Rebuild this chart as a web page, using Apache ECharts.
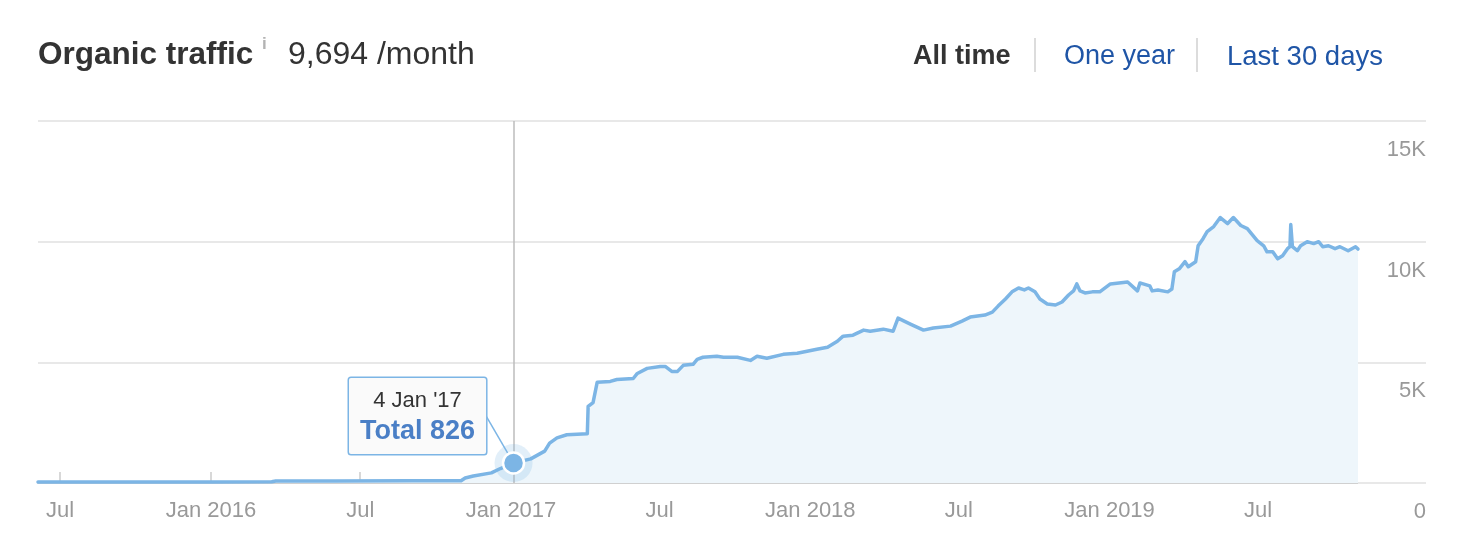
<!DOCTYPE html>
<html>
<head>
<meta charset="utf-8">
<script src="https://cdn.jsdelivr.net/npm/echarts@6/dist/echarts.min.js"></script>
<style>
  html, body { margin: 0; padding: 0; background: #fff; }
  #chart { width: 1462px; height: 542px; }
</style>
</head>
<body>
<div id="chart"></div>
<script>
// ---- data ----
const dates = [
  '2015-06-04','2015-09-01','2016-01-01','2016-03-15','2016-03-20','2016-06-01','2016-09-01','2016-11-01','2016-11-06','2016-11-16','2016-12-08','2016-12-19',
  '2017-01-04','2017-01-25','2017-02-11','2017-02-17','2017-02-26','2017-03-10','2017-04-04','2017-04-05','2017-04-11','2017-04-16',
  '2017-05-02','2017-05-10','2017-05-30','2017-06-04','2017-06-16','2017-07-02','2017-07-08','2017-07-16','2017-07-23','2017-07-30',
  '2017-08-11','2017-08-16','2017-08-23','2017-09-09','2017-09-17','2017-10-04','2017-10-20','2017-10-28','2017-11-09','2017-11-29','2017-12-16',
  '2018-01-09','2018-01-22','2018-02-03','2018-02-10','2018-02-22','2018-03-07','2018-03-15','2018-03-31','2018-04-12','2018-04-18','2018-05-03','2018-05-11','2018-05-19','2018-05-31','2018-06-21',
  '2018-07-05','2018-07-15','2018-08-02','2018-08-11','2018-08-18','2018-08-27','2018-09-04','2018-09-12','2018-09-19','2018-09-24','2018-10-02','2018-10-08','2018-10-17','2018-10-27','2018-11-04','2018-11-12','2018-11-18','2018-11-22','2018-11-26','2018-12-02','2018-12-11','2018-12-20',
  '2019-01-02','2019-01-23','2019-02-04','2019-02-07','2019-02-19','2019-02-22','2019-03-01','2019-03-13','2019-03-18','2019-03-21','2019-03-27','2019-04-03','2019-04-07','2019-04-16','2019-04-19','2019-04-25','2019-04-30','2019-05-08','2019-05-16','2019-05-25',
  '2019-06-01','2019-06-10','2019-06-18','2019-06-30','2019-07-08','2019-07-12','2019-07-19','2019-07-25','2019-07-31','2019-08-06','2019-08-09','2019-08-10','2019-08-12','2019-08-18','2019-08-22','2019-08-30','2019-09-07','2019-09-13','2019-09-18','2019-09-25','2019-10-03','2019-10-09','2019-10-19','2019-10-28','2019-10-31'
];
const traffic = [
  40,40,45,50,80,85,90,95,210,290,420,600,
  826,1000,1320,1650,1870,2000,2040,3170,3330,4170,
  4210,4290,4330,4540,4750,4830,4830,4625,4625,4875,
  4920,5125,5210,5250,5210,5210,5080,5250,5170,5330,5375,
  5540,5625,5875,6085,6125,6335,6290,6375,6290,6830,6585,6460,6335,6420,6500,
  6710,6875,6960,7080,7330,7625,7920,8080,8000,8080,7920,7625,7420,7375,7500,7790,7960,8250,7960,7875,7920,7920,
  8250,8330,7960,8290,8170,7960,8000,7920,8040,8750,8875,9170,8960,9170,9830,10125,10420,10625,11000,10750,
  11000,10670,10540,10040,9830,9580,9580,9290,9420,9710,9790,10710,9790,9625,9830,10000,9920,10000,9790,9830,9710,9790,9625,9790,9694
];
const yTicks = [0, 5000, 10000, 15000];
const yTickLabels = ['0', '5K', '10K', '15K'];
const highlightDate = '2017-01-04';
const highlightValue = 826;
const highlightLabelDate = "4 Jan '17";
const connectorAnchor = ['2016-12-02', 2750];
const headerTitle = 'Organic traffic';
const headerValue = '9,694 /month';
const navItems = ['All time', 'One year', 'Last 30 days'];

// ---- chart ----
const FONT = '"Liberation Sans", Arial, Helvetica, sans-serif';
const LINE = '#7cb5e5';
const GRIDC = '#e8e8e8';
const DAY = 86400000;

const chart = echarts.init(document.getElementById('chart'), null, { renderer: 'canvas' });
const seriesData = dates.map((d, i) => [d, traffic[i]]);

chart.setOption({
  animation: false,
  textStyle: { fontFamily: FONT },
  grid: { left: 38, right: 104, top: 121, bottom: 59, containLabel: false },
  graphic: [
    { type: 'text', left: 38, top: 39, style: { text: headerTitle, font: 'bold 31.5px ' + FONT, fill: '#333' } },
    { type: 'text', left: 262, top: 36, style: { text: 'i', font: 'bold 17px ' + FONT, fill: '#b3b3b3' } },
    { type: 'text', left: 288, top: 39, style: { text: headerValue, font: '32px ' + FONT, fill: '#333' } },
    { type: 'text', left: 913, top: 43, style: { text: navItems[0], font: 'bold 27px ' + FONT, fill: '#333' } },
    { type: 'line', shape: { x1: 1035, y1: 38, x2: 1035, y2: 72 }, style: { stroke: '#dcdcdc', lineWidth: 2 } },
    { type: 'text', left: 1064, top: 43, style: { text: navItems[1], font: '27px ' + FONT, fill: '#1f55a6' } },
    { type: 'line', shape: { x1: 1197, y1: 38, x2: 1197, y2: 72 }, style: { stroke: '#dcdcdc', lineWidth: 2 } },
    { type: 'text', left: 1227, top: 43, style: { text: navItems[2], font: '27.5px ' + FONT, fill: '#1f55a6' } }
  ],
  xAxis: {
    type: 'time',
    min: dates[0],
    max: dates[dates.length - 1],
    minInterval: 182 * DAY,
    maxInterval: 182 * DAY,
    axisLine: { show: true, lineStyle: { color: '#d0d0d0', width: 2 } },
    axisTick: { show: true, inside: true, length: 11, lineStyle: { color: '#d8d8d8', width: 2 } },
    splitLine: { show: false },
    axisLabel: {
      color: '#999', fontSize: 22, fontFamily: FONT, margin: 17,
      hideOverlap: false,
      formatter: function (v) {
        const d = new Date(v);
        return d.getMonth() === 0 ? 'Jan ' + d.getFullYear() : 'Jul';
      }
    }
  },
  yAxis: {
    type: 'value',
    position: 'right',
    min: yTicks[0],
    max: yTicks[yTicks.length - 1],
    interval: yTicks[1] - yTicks[0],
    axisLine: { show: false },
    axisTick: { show: true, length: 68, lineStyle: { color: GRIDC, width: 2 } },
    splitLine: { show: true, lineStyle: { color: GRIDC, width: 2 } },
    axisLabel: {
      color: '#999', fontSize: 22, fontFamily: FONT, margin: 68,
      align: 'right', verticalAlign: 'top', padding: [18, 0, 0, 0],
      formatter: function (v) { const i = yTicks.indexOf(v); return i >= 0 ? yTickLabels[i] : ''; }
    }
  },
  series: [{
    type: 'line',
    data: seriesData,
    showSymbol: false,
    symbol: 'none',
    lineStyle: { color: LINE, width: 3.5, join: 'round', cap: 'round' },
    areaStyle: { color: '#eef6fb', opacity: 1 },
    z: 3,
    markLine: {
      silent: true,
      symbol: ['none', 'none'],
      label: { show: false },
      animation: false,
      data: [
        { xAxis: highlightDate, lineStyle: { color: '#bdbdbd', width: 1.5, type: 'solid' } },
        [
          { coord: connectorAnchor, lineStyle: { color: LINE, width: 1.5, type: 'solid' } },
          { coord: [highlightDate, highlightValue] }
        ]
      ]
    },
    markPoint: {
      silent: true,
      animation: false,
      data: [
        {
          coord: [highlightDate, highlightValue], symbol: 'circle', symbolSize: 38,
          itemStyle: { color: 'rgba(124,181,229,0.22)' }, label: { show: false }
        },
        {
          coord: [highlightDate, highlightValue], symbol: 'circle', symbolSize: 21,
          itemStyle: { color: LINE, borderColor: '#fff', borderWidth: 2.5 },
          label: {
            show: true, position: 'inside', offset: [-96, -47],
            backgroundColor: '#fafafa', borderColor: LINE, borderWidth: 1.5, borderRadius: 2,
            padding: [8, 11, 8, 11],
            formatter: '{d|' + highlightLabelDate + '}\n{t|Total ' + highlightValue + '}',
            rich: {
              d: { fontSize: 22, color: '#333', fontFamily: FONT, lineHeight: 30, align: 'center' },
              t: { fontSize: 27, fontWeight: 'bold', color: '#4a7fc6', fontFamily: FONT, lineHeight: 30, align: 'center' }
            }
          }
        }
      ]
    }
  }]
});
</script>
</body>
</html>
